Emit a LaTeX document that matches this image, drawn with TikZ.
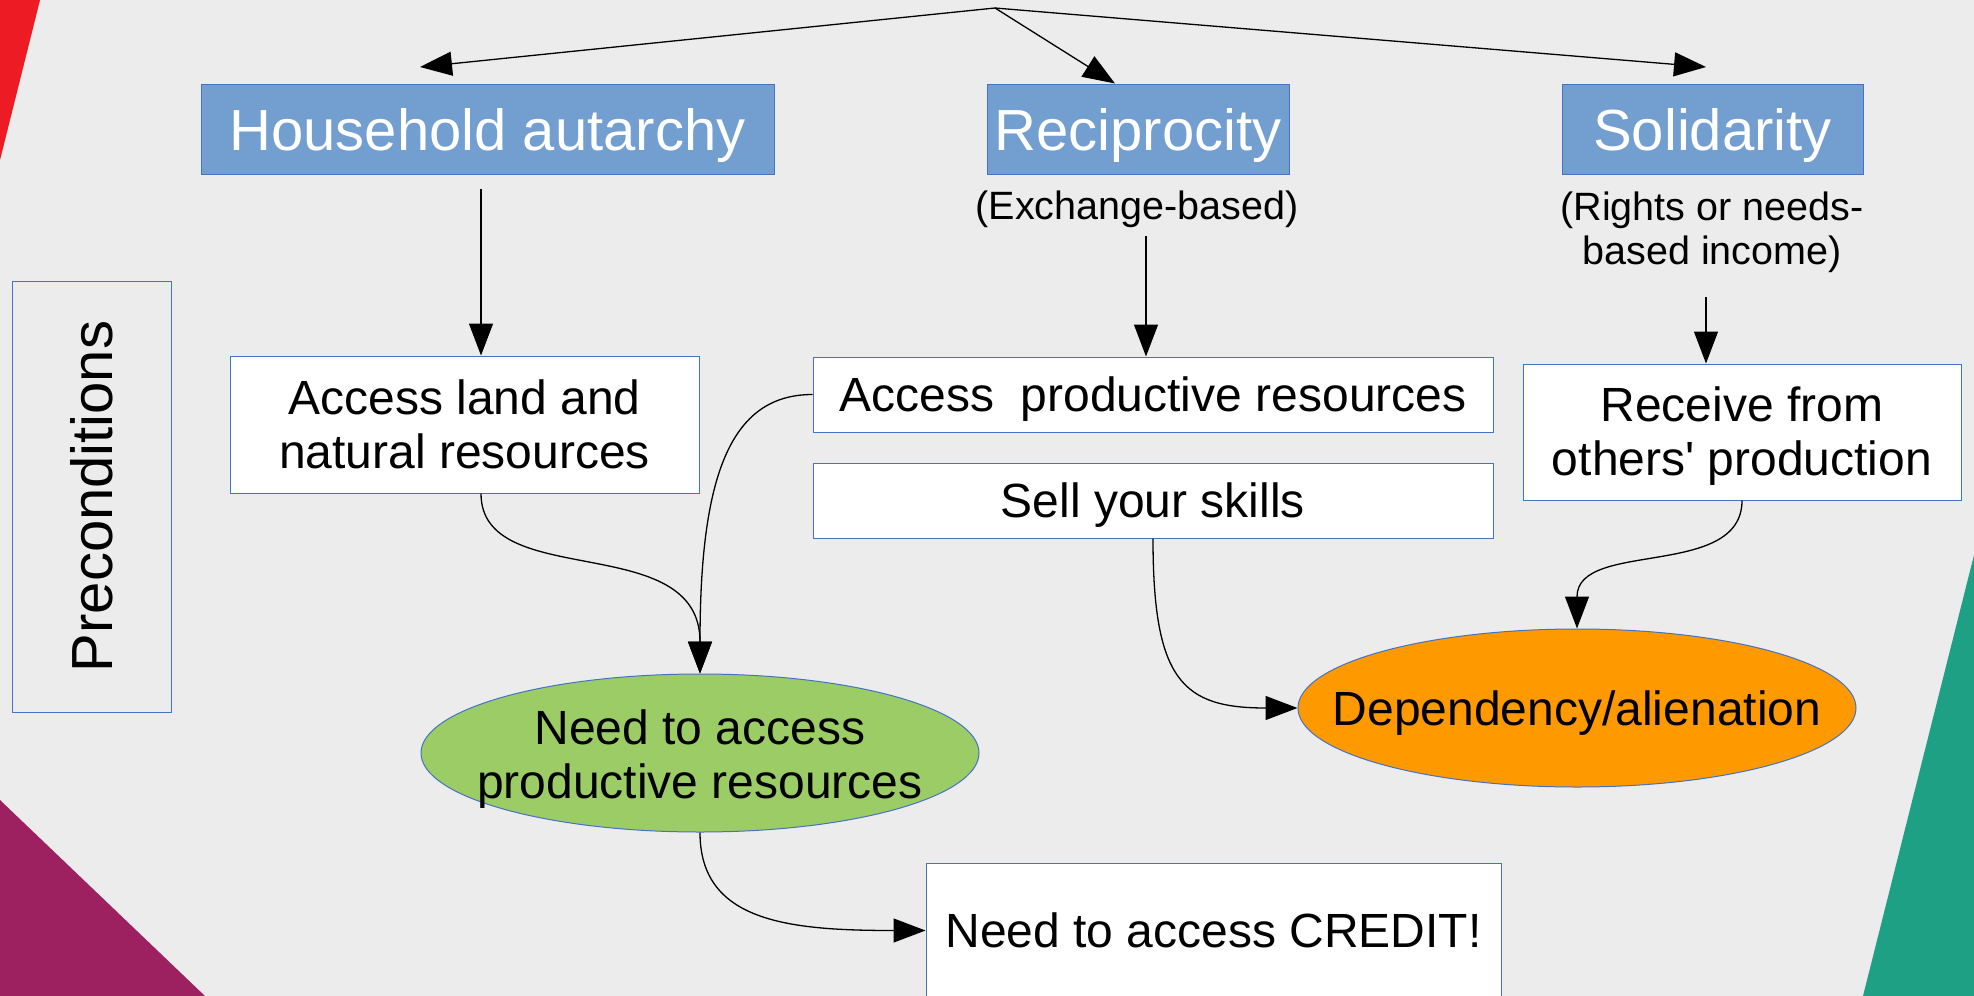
\documentclass[tikz,border=0pt]{standalone}
\usepackage{fontspec}
\setmainfont{Liberation Sans}
\usetikzlibrary{arrows.meta,shapes.geometric}

\definecolor{bg}{RGB}{236,236,236}
\definecolor{edgeblue}{RGB}{68,114,196}
\definecolor{headblue}{RGB}{114,159,207}
\definecolor{leafgreen}{RGB}{155,204,102}
\definecolor{amber}{RGB}{255,153,0}
\definecolor{cornerred}{RGB}{237,28,36}
\definecolor{cornerplum}{RGB}{157,33,96}
\definecolor{cornerteal}{RGB}{30,160,133}

\begin{document}
\begin{tikzpicture}[x=1pt,y=-1pt,
  conn/.style={draw=black, line width=1.3pt, -{Triangle[length=32pt,width=24pt]}},
  headbox/.style={draw=edgeblue, line width=1pt, fill=headblue, text=white,
    inner sep=0pt, minimum height=90pt,
    font=\fontsize{58}{66}\selectfont, text height=42pt, text depth=0pt},
  card/.style={draw=edgeblue, line width=1pt, fill=white, inner sep=0pt,
    align=center, font=\fontsize{48}{54}\selectfont},
  onecard/.style={card, text height=34pt, text depth=0pt},
  blob/.style={ellipse, draw=edgeblue, line width=1pt, inner sep=0pt,
    minimum width=558pt, minimum height=158pt},
  bodytext/.style={inner sep=0pt, align=center, font=\fontsize{48}{54}\selectfont},
  subtext/.style={inner sep=0pt, align=center, font=\fontsize{39.5}{44}\selectfont}]

\useasboundingbox (0,0) rectangle (1974,996);
\clip (0,0) rectangle (1974,996);
\fill[bg] (0,0) rectangle (1974,996);

% corner decorations
\fill[cornerred] (0,0) -- (40,0) -- (0,160) -- cycle;
\fill[cornerplum] (0,800) -- (205,996) -- (0,996) -- cycle;
\fill[cornerteal] (1974,555) -- (1974,996) -- (1863,996) -- cycle;

% side label
\node[draw=edgeblue, line width=1pt, minimum width=159pt, minimum height=431pt, inner sep=0pt]
  (pre) at (91.5,496.5) {};
\node[rotate=90, inner sep=0pt, font=\fontsize{58}{66}\selectfont, text height=42pt, text depth=0pt]
  (pretxt) at (pre.center) {Preconditions};

% three modes
\node[headbox, minimum width=573pt] (hh) at (487.5,129) {Household autarchy};
\node[headbox, minimum width=302pt] (rc) at (1138,129) {Reciprocity};
\node[headbox, minimum width=301pt] (so) at (1712.5,129) {Solidarity};

\node[subtext] (ex) at (1137,209) {(Exchange-based)};
\node[subtext] (rn) at (1712,232) {(Rights or needs-\\based income)};

% preconditions
\node[card, minimum width=469pt, minimum height=137pt] (al) at (464.5,424.5)
  {Access land and\\natural resources};
\node[onecard, minimum width=680pt, minimum height=75pt] (ap) at (1153,394.5)
  {Access\ \ productive resources};
\node[onecard, minimum width=680pt, minimum height=75pt] (ss) at (1153,500.5)
  {Sell your skills};
\node[card, minimum width=438pt, minimum height=136pt] (rf) at (1742,432) {};
\node[bodytext] (rftxt) at ([yshift=-4pt]rf.center)
  {Receive from\\others\textquotesingle\ production};

% outcomes
\node[blob, fill=leafgreen] (nr) at (700,753) {};
\node[bodytext] (nrtxt) at ([yshift=-6pt]nr.center) {Need to access\\productive resources};
\node[blob, fill=amber] (da) at (1577,708) {};
\node[bodytext, text height=34pt, text depth=0pt] (datxt) at (da.center) {Dependency/alienation};
\node[onecard, minimum width=575pt, minimum height=135pt] (cr) at (1213.5,930.5)
  {Need to access CREDIT!};

% free ends of the top fan and the short drops
\coordinate (fan) at (995,8);
\coordinate (fanL) at (420,67);
\coordinate (fanR) at (1706,67);
\coordinate (dropA) at (481,189);
\coordinate (dropB) at (1146,236);
\coordinate (dropC) at (1706,297);

\draw[conn] (fan) -- (fanL);
\draw[conn] (fan) -- ([xshift=-23pt]rc.north);
\draw[conn] (fan) -- (fanR);

\draw[conn] (dropA) -- ([xshift=16.5pt]al.north);
\draw[conn] (dropB) -- ([xshift=-7pt]ap.north);
\draw[conn] (dropC) -- ([xshift=-36pt]rf.north);

\draw[conn] ([xshift=16.5pt]al.south) .. controls +(0,99) and +(0,-145) .. (nr.north);
\draw[conn] (ap.west) .. controls +(-83,0) and +(0,-196) .. (nr.north);
\draw[conn] (ss.south) .. controls +(0,142) and +(-115,0) .. (da.west);
\draw[conn] (rf.south) .. controls +(0,79) and +(0,-89) .. (da.north);
\draw[conn] (nr.south) .. controls +(0,89) and +(-138,0) .. (cr.west);

\end{tikzpicture}
\end{document}
